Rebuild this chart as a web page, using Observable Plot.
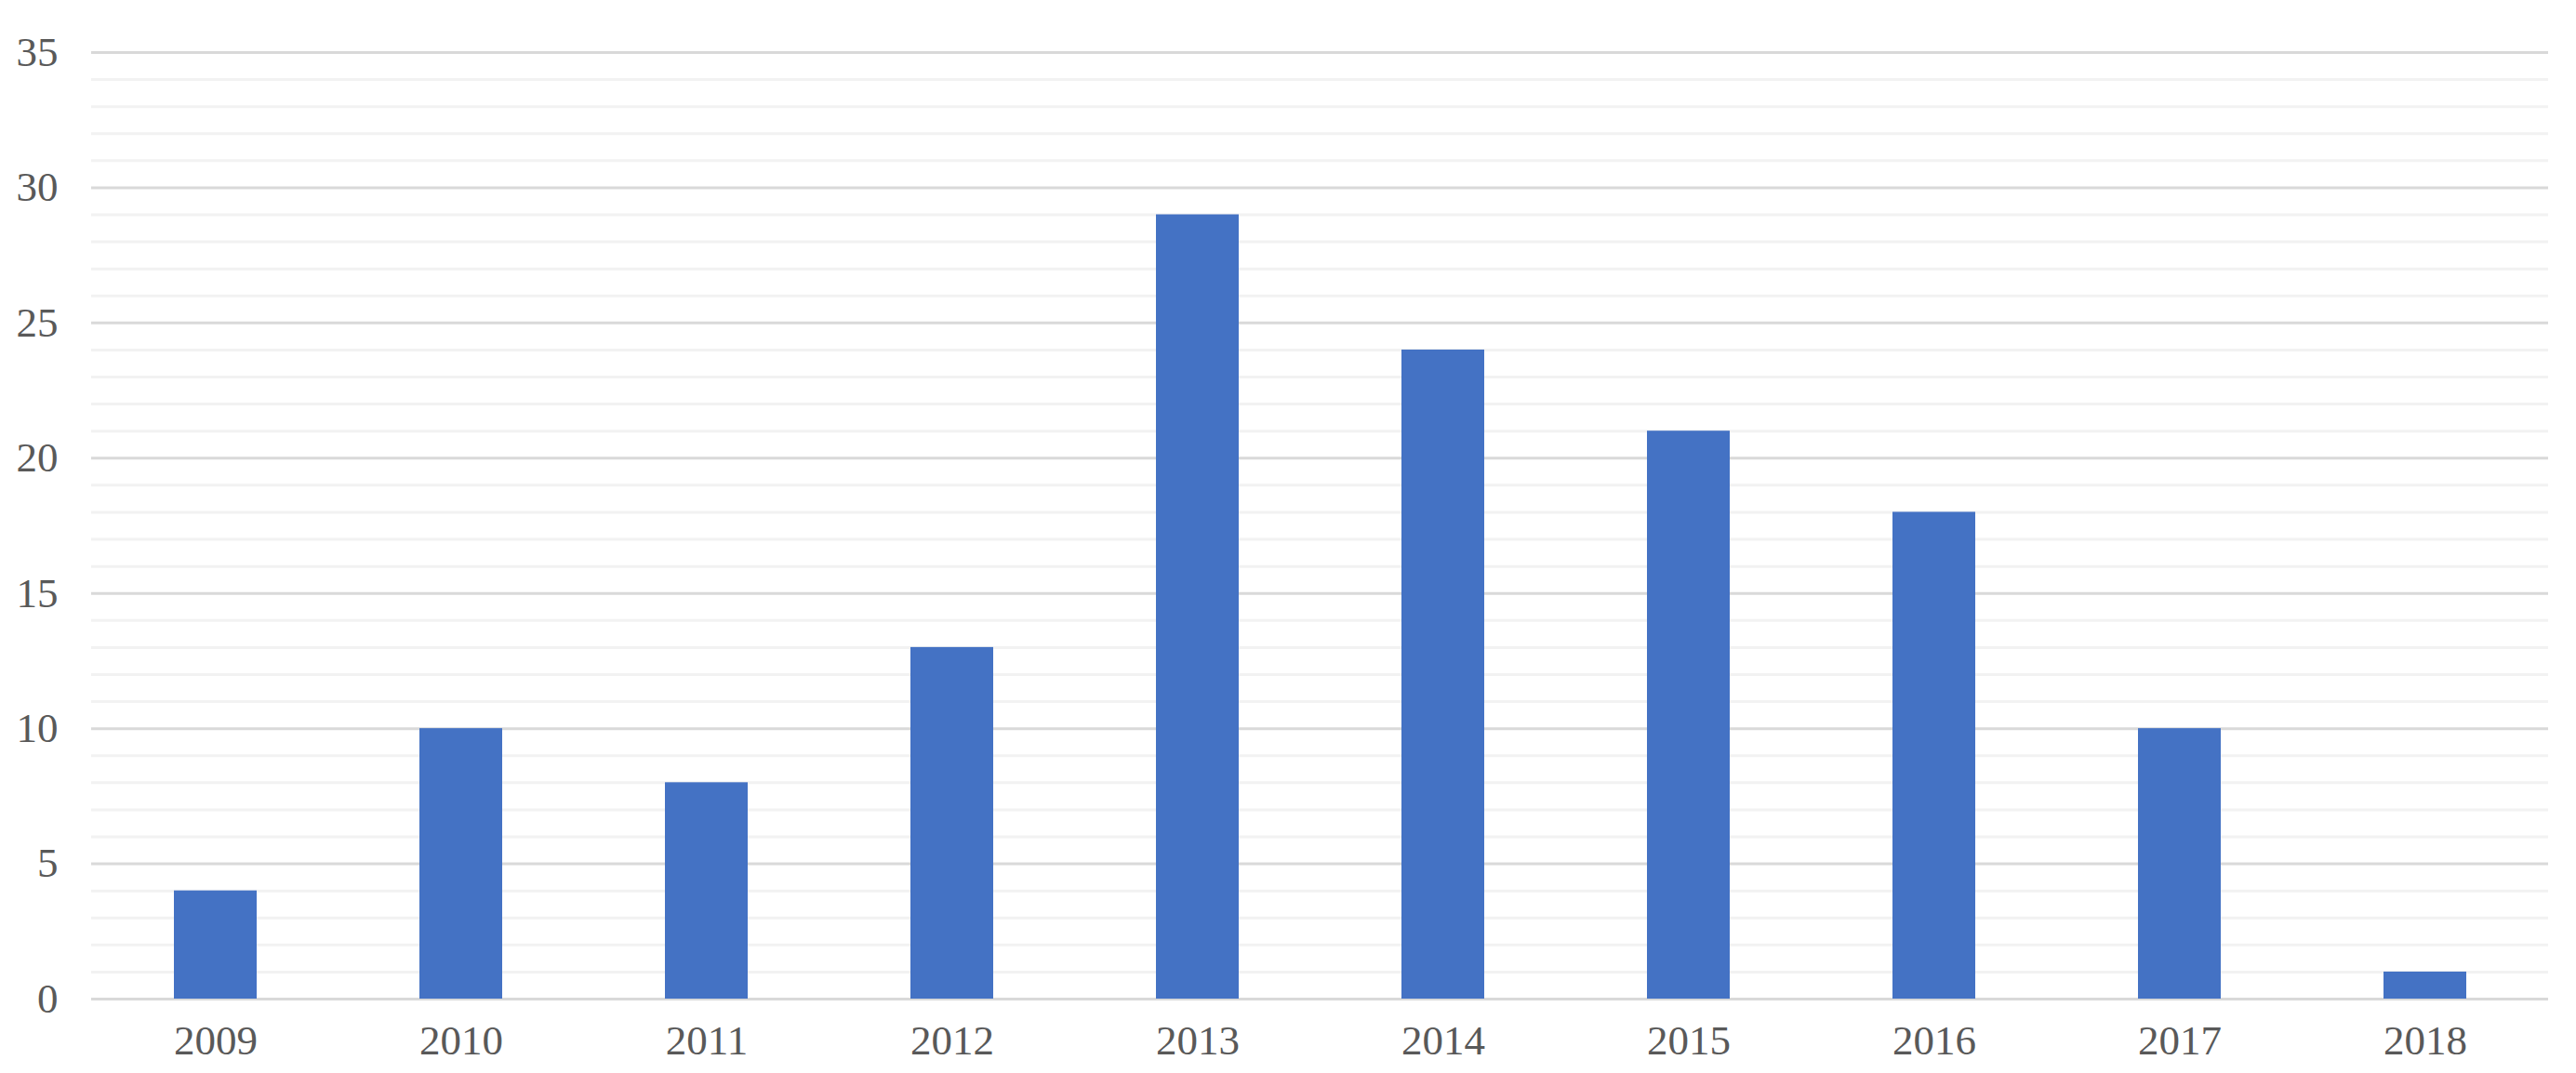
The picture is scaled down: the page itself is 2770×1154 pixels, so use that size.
<!DOCTYPE html>
<html>
<head>
<meta charset="utf-8">
<script src="https://cdn.jsdelivr.net/npm/d3@7"></script>
<script src="https://cdn.jsdelivr.net/npm/@observablehq/plot@0.6"></script>
<style>
  html, body { margin: 0; padding: 0; background: #ffffff; }
  #chart svg { display: block; }
</style>
</head>
<body>
<div id="chart"></div>
<script>
const years = ["2009", "2010", "2011", "2012", "2013", "2014", "2015", "2016", "2017", "2018"];
const counts = [4, 10, 8, 13, 29, 24, 21, 18, 10, 1];
const yMajorTicks = [0, 5, 10, 15, 20, 25, 30, 35];
const yMinorTicks = [1, 2, 3, 4, 6, 7, 8, 9, 11, 12, 13, 14, 16, 17, 18, 19, 21, 22, 23, 24, 26, 27, 28, 29, 31, 32, 33, 34];

const data = years.map((y, i) => ({year: y, count: counts[i]}));

const chart = Plot.plot({
  width: 2770,
  height: 1154,
  marginLeft: 98,
  marginRight: 30,
  marginTop: 56,
  marginBottom: 80,
  style: {
    fontFamily: "'Liberation Serif', 'Times New Roman', serif",
    fontSize: "45px",
    color: "#595959",
    background: "#ffffff",
    overflow: "visible"
  },
  x: {domain: years, paddingInner: 0.663, paddingOuter: 0.3315, label: null},
  y: {domain: [0, 35], label: null},
  marks: [
    Plot.ruleY(yMinorTicks, {stroke: "#f2f2f2", strokeWidth: 3}),
    Plot.ruleY(yMajorTicks, {stroke: "#d9d9d9", strokeWidth: 3}),
    Plot.barY(data, {x: "year", y: "count", fill: "#4472C4"}),
    Plot.axisY(yMajorTicks, {tickSize: 0, tickPadding: 36, fontSize: 45, fill: "#595959", label: null}),
    Plot.axisX({tickSize: 0, tickPadding: 28, fontSize: 45, fill: "#595959", label: null})
  ]
});
document.getElementById("chart").appendChild(chart);
</script>
</body>
</html>
